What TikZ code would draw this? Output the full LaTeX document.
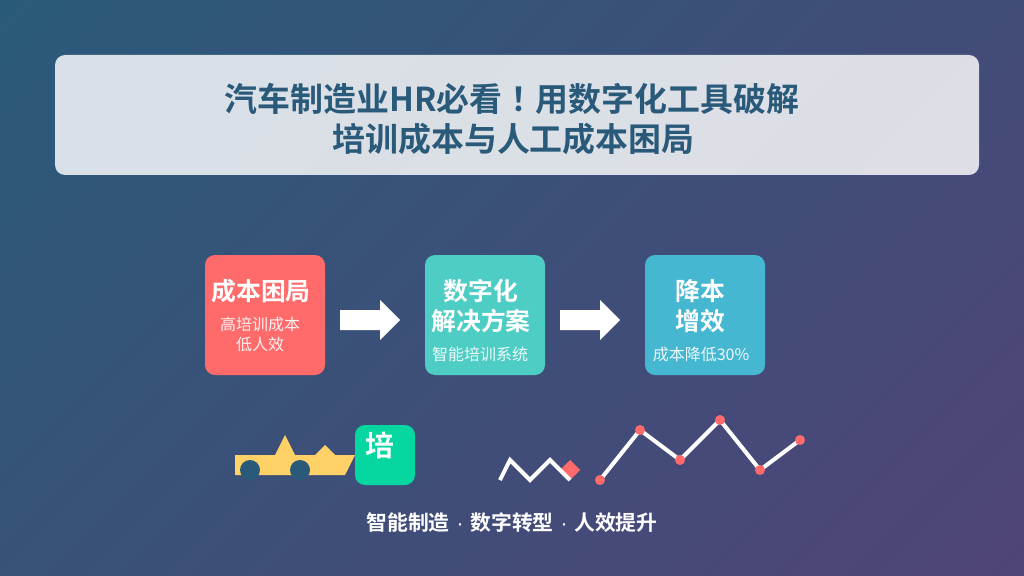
\documentclass[tikz,border=0pt]{standalone}
\usepackage{fontspec}
\setmainfont{Noto Sans CJK SC}
\newfontfamily\cjkb{Noto Sans CJK SC Bold}
\newfontfamily\cjktc{Noto Sans CJK TC Bold}
\newfontfamily\dotfont{Liberation Sans}
\usetikzlibrary{shapes.geometric}
\definecolor{bgA}{HTML}{2A5A7A}
\definecolor{bgB}{HTML}{504478}
\definecolor{titleC}{HTML}{2A5A7A}
\definecolor{coral}{HTML}{FF6B6B}
\definecolor{teal}{HTML}{4ECDC4}
\definecolor{sky}{HTML}{45B7D1}
\definecolor{mint}{HTML}{06D6A0}
\definecolor{amber}{HTML}{FFD166}
\newcommand{\footdot}{\hspace{5.2pt}{\dotfont ·}\hspace{5.2pt}}
\tikzset{
  x=0.75pt,y=-0.75pt,
  card/.style={rounded corners=7.5pt,draw=none},
  blockarrow/.style={fill=white,draw=none},
  txt/.style={inner sep=0pt,outer sep=0pt,align=center,text=white},
  titletxt/.style={txt,text=titleC,font=\cjkb\fontsize{24.7pt}{30pt}\selectfont},
  cardhead/.style={txt,font=\cjkb\fontsize{18.6pt}{22.5pt}\selectfont},
  cardsub/.style={txt,text opacity=0.9,font=\fontsize{12pt}{15pt}\selectfont},
  plotdot/.style={circle,fill=coral,minimum size=7.5pt,inner sep=0pt,draw=none},
  plotline/.style={draw=white,line width=3pt,line join=miter},
}
\begin{document}
\begin{tikzpicture}
\useasboundingbox (0,0) rectangle (1024,575.7);
\begin{scope}
  \clip (0,0) rectangle (1024,576);
  \shade[shading=axis,left color=bgA,right color=bgB,shading angle=45]
    (512-566,288-566) rectangle (512+566,288+566);
\end{scope}
% title panel
\fill[white,opacity=0.82,card] (55,55) rectangle (979,175);
\node[titletxt] (title1) at (512,99) {汽车制造业HR必看{\cjktc ！}用数字化工具破解};
\node[titletxt] (title2) at (513.5,139) {培训成本与人工成本困局};
% cards
\fill[coral,card] (205,255) rectangle (325,375);
\fill[teal,card] (425,255) rectangle (545,375);
\fill[sky,card] (645,255) rectangle (765,375);
\node[cardhead] (h1) at (261,291) {成本困局};
\node[cardsub] (s1a) at (260,324) {高培训成本};
\node[cardsub] (s1b) at (260,344) {低人效};
\node[cardhead] (h2a) at (481,291) {数字化};
\node[cardhead] (h2b) at (481,321) {解决方案};
\node[cardsub] (s2) at (480,354) {智能培训系统};
\node[cardhead] (h3a) at (700.5,291) {降本};
\node[cardhead] (h3b) at (700.5,321) {增效};
\node[cardsub] (s3) at (701,354) {成本降低30\%};
% arrows
\fill[blockarrow] (340,310) -- (380,310) -- (380,300) -- (400,320) -- (380,340) -- (380,330) -- (340,330) -- cycle;
\fill[blockarrow] (560,310) -- (600,310) -- (600,300) -- (620,320) -- (600,340) -- (600,330) -- (560,330) -- cycle;
% car
\fill[amber] (235,455) -- (275,455) -- (285,435) -- (295,455) -- (315,455) -- (325,445) -- (335,455) -- (355,455) -- (345,475) -- (235,475) -- cycle;
\fill[titleC] (250,470) circle[radius=10];
\fill[titleC] (300,470) circle[radius=10];
% training badge
\fill[mint,rounded corners=7.5pt] (355,425) rectangle (415,485);
\node[txt,font=\cjkb\fontsize{21.6pt}{26pt}\selectfont] (pei) at (380,445) {培};
% zigzag
\fill[coral] (570,460) -- (580,470) -- (570,480) -- (560,470) -- cycle;
\draw[draw=white,line width=3pt] (500,480) -- (510,460) -- (530,480) -- (550,460) -- (570,480);
% line chart
\coordinate (p1) at (600,480);
\coordinate (p2) at (640,430);
\coordinate (p3) at (680,460);
\coordinate (p4) at (720,420);
\coordinate (p5) at (760,470);
\coordinate (p6) at (800,440);
\draw[plotline] (p1) -- (p2) -- (p3) -- (p4) -- (p5) -- (p6);
\foreach \p in {p1,p2,p3,p4,p5,p6} \node[plotdot] (d\p) at (\p) {};
% footer
\node[txt,font=\cjkb\fontsize{15.6pt}{19pt}\selectfont] (foot) at (512,523) {智能制造\footdot 数字转型\footdot 人效提升};
\end{tikzpicture}
\end{document}
